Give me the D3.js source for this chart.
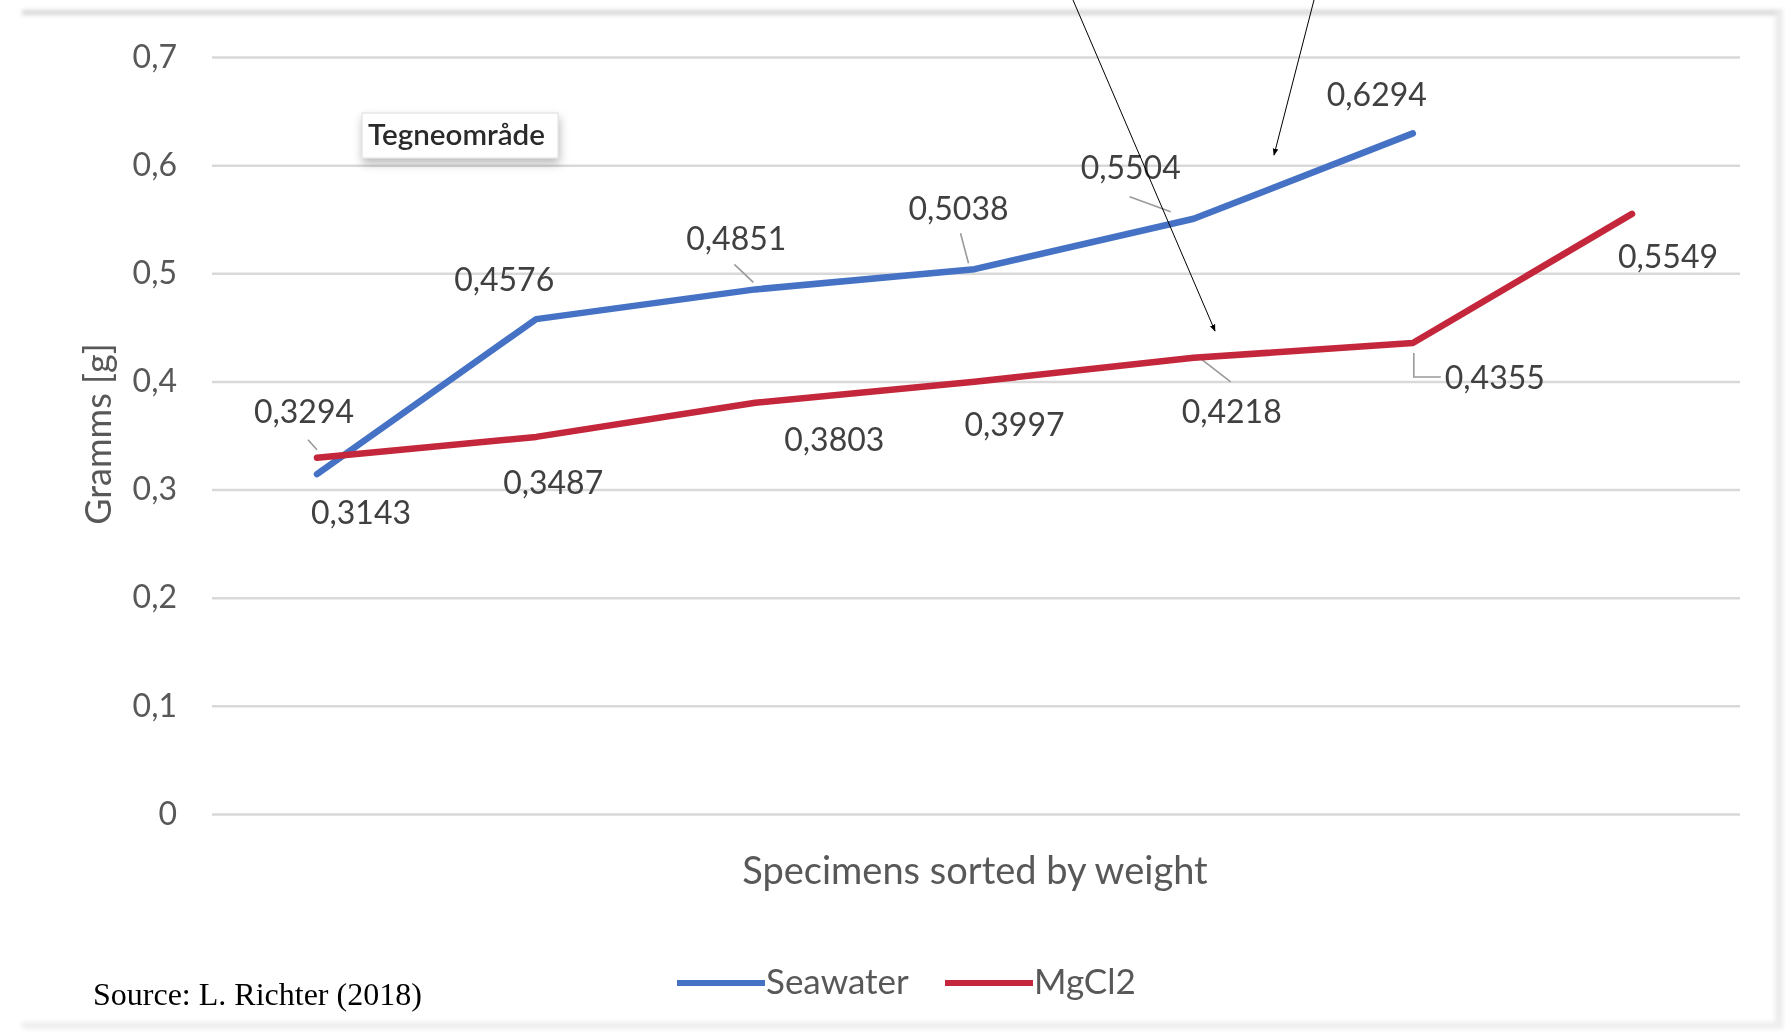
<!DOCTYPE html>
<html>
<head>
<meta charset="utf-8">
<title>Specimens sorted by weight</title>
<script src="https://cdn.jsdelivr.net/npm/d3@7/dist/d3.min.js"></script>
<style>
  html, body { margin: 0; padding: 0; background: #ffffff; }
  svg { display: block; }
</style>
</head>
<body>
<script>
// Specimen weights in grams, sorted ascending within each treatment
const specimens = [1, 2, 3, 4, 5, 6, 7];
const seawater = [0.3143, 0.4576, 0.4851, 0.5038, 0.5504, 0.6294];
const mgcl2 = [0.3294, 0.3487, 0.3803, 0.3997, 0.4218, 0.4355, 0.5549];
const yTicks = [0, 0.1, 0.2, 0.3, 0.4, 0.5, 0.6, 0.7];
const seriesNames = ["Seawater", "MgCl2"];

// Label placement (offset of each value label from its point, px)
const seawaterLabelOffsets = [[44, 38], [-32, -40], [-19, -51], [-16, -61], [-63, -51], [-36, -39]];
const mgcl2LabelOffsets = [[-13, -46], [17, 46], [79, 37], [40, 43], [38, 54], [82, 34], [36, 43]];
// Leader lines, as polylines relative to the point they belong to
const seawaterLeaders = [null, null, [[-21, -25], [-2, -7]], [[-14, -36], [-6, -6]], [[-64, -22], [-23, -7]], null];
const mgcl2Leaders = [[[-9, -18], [0, -8]], null, null, null, [[6, 0], [37, 24]], [[1, 10], [1, 34], [28, 34]], null];

const W = 1791, H = 1036;
const plotLeft = 212, plotRight = 1740, plotTop = 57, plotBottom = 814;
const colors = { Seawater: "#4472c4", MgCl2: "#c4263a" };

const locale = d3.formatLocale({ decimal: ",", thousands: ".", grouping: [3], currency: ["", " kr"] });
const fmtTick = locale.format(".1~f");
const fmtValue = locale.format(".4f");

const svg = d3.select("body").append("svg")
  .attr("width", W).attr("height", H)
  .attr("viewBox", `0 0 ${W} ${H}`);

const defs = svg.append("defs");
defs.append("filter").attr("id", "soft")
  .attr("x", "-2%").attr("y", "-2%").attr("width", "104%").attr("height", "104%")
  .append("feGaussianBlur").attr("stdDeviation", 0.7);
defs.append("filter").attr("id", "edge")
  .append("feGaussianBlur").attr("stdDeviation", 2);
const shadow = defs.append("filter").attr("id", "boxShadow")
  .attr("x", "-20%").attr("y", "-40%").attr("width", "140%").attr("height", "200%");
shadow.append("feDropShadow").attr("dx", 1).attr("dy", 5).attr("stdDeviation", 5)
  .attr("flood-color", "#000").attr("flood-opacity", 0.28);
defs.append("marker").attr("id", "arrow")
  .attr("viewBox", "0 0 10 10").attr("refX", 9).attr("refY", 5)
  .attr("markerWidth", 7).attr("markerHeight", 7).attr("markerUnits", "userSpaceOnUse")
  .attr("orient", "auto")
  .append("path").attr("d", "M0,1 L10,5 L0,9 Z").attr("fill", "#000");

// Chart frame edges
const frame = svg.append("g").attr("filter", "url(#edge)");
frame.append("rect").attr("x", 22).attr("y", 10).attr("width", 1760).attr("height", 5).attr("fill", "#d6d6d6");
frame.append("rect").attr("x", 1775).attr("y", 12).attr("width", 8).attr("height", 1016).attr("fill", "#ececec");
frame.append("rect").attr("x", 22).attr("y", 1022).attr("width", 1760).attr("height", 7).attr("fill", "#eeeeee");

const chart = svg.append("g").attr("filter", "url(#soft)");

const x = d3.scalePoint().domain(specimens).range([317, 1632]);
const y = d3.scaleLinear().domain([0, 0.7]).range([plotBottom, plotTop]);

// Horizontal gridlines and value axis labels
const yAxis = d3.axisLeft(y).tickValues(yTicks).tickFormat(fmtTick)
  .tickSize(-(plotRight - plotLeft)).tickPadding(35);
const gy = chart.append("g").attr("transform", `translate(${plotLeft},0)`).call(yAxis);
gy.select(".domain").remove();
gy.selectAll(".tick line").attr("stroke", "#d9d9d9").attr("stroke-width", 2.5);
gy.selectAll(".tick text")
  .attr("font-family", "Lato, 'Open Sans', sans-serif")
  .attr("font-size", 32).attr("fill", "#595959");

// Axis titles
chart.append("text")
  .attr("transform", "translate(98,434) rotate(-90)")
  .attr("text-anchor", "middle").attr("dy", "0.35em")
  .attr("font-family", "Lato, 'Open Sans', sans-serif")
  .attr("font-size", 36).attr("fill", "#595959")
  .text("Gramms [g]");
chart.append("text")
  .attr("x", 975).attr("y", 884).attr("text-anchor", "middle")
  .attr("font-family", "Lato, 'Open Sans', sans-serif")
  .attr("font-size", 38).attr("fill", "#595959")
  .text("Specimens sorted by weight");

const line = d3.line()
  .x((d, i) => x(specimens[i]))
  .y(d => y(d));

const series = [
  { name: seriesNames[0], values: seawater, offsets: seawaterLabelOffsets, leaders: seawaterLeaders },
  { name: seriesNames[1], values: mgcl2, offsets: mgcl2LabelOffsets, leaders: mgcl2Leaders }
];

// Leader lines from value labels
series.forEach(s => {
  s.values.forEach((v, i) => {
    const l = s.leaders[i];
    if (!l) return;
    const px = x(specimens[i]), py = y(v);
    chart.append("polyline")
      .attr("points", l.map(p => `${px + p[0]},${py + p[1]}`).join(" "))
      .attr("fill", "none").attr("stroke", "#9a9a9a").attr("stroke-width", 1.6);
  });
});

// Series lines
series.forEach(s => {
  chart.append("path")
    .datum(s.values)
    .attr("d", line)
    .attr("fill", "none")
    .attr("stroke", colors[s.name])
    .attr("stroke-width", 6.5)
    .attr("stroke-linecap", "round")
    .attr("stroke-linejoin", "round");
});

// Value labels
series.forEach(s => {
  chart.append("g").selectAll("text")
    .data(s.values)
    .join("text")
    .attr("x", (v, i) => x(specimens[i]) + s.offsets[i][0])
    .attr("y", (v, i) => y(v) + s.offsets[i][1])
    .attr("dy", "0.36em")
    .attr("text-anchor", "middle")
    .attr("font-family", "Lato, 'Open Sans', sans-serif")
    .attr("font-size", 32).attr("fill", "#404040")
    .text(v => fmtValue(v));
});

// Legend
const legend = chart.append("g");
const legendItems = [
  { name: seriesNames[0], x0: 677, x1: 765 },
  { name: seriesNames[1], x0: 945, x1: 1033 }
];
legendItems.forEach(it => {
  legend.append("line")
    .attr("x1", it.x0).attr("x2", it.x1).attr("y1", 983).attr("y2", 983)
    .attr("stroke", colors[it.name]).attr("stroke-width", 6);
  legend.append("text")
    .attr("x", it.x1 + 1).attr("y", 994)
    .attr("font-family", "Lato, 'Open Sans', sans-serif")
    .attr("font-size", 35).attr("fill", "#595959")
    .text(it.name);
});

// Plot-area tooltip box
const tip = chart.append("g");
tip.append("rect")
  .attr("x", 362).attr("y", 113).attr("width", 196).attr("height", 45)
  .attr("fill", "#ffffff").attr("stroke", "#dcdcdc").attr("stroke-width", 1)
  .attr("filter", "url(#boxShadow)");
tip.append("text")
  .attr("x", 368).attr("y", 145)
  .attr("font-family", "Lato, 'Open Sans', sans-serif")
  .attr("font-size", 28).attr("font-weight", 600).attr("fill", "#2b2b2b")
  .attr("textLength", 177).attr("lengthAdjust", "spacingAndGlyphs")
  .text("Tegneområde");

// Pointer arrows drawn over the chart
const arrows = [
  { x1: 1073, y1: 0, x2: 1215, y2: 331 },
  { x1: 1314, y1: 0, x2: 1274, y2: 155 }
];
svg.append("g").selectAll("line").data(arrows).join("line")
  .attr("x1", d => d.x1).attr("y1", d => d.y1)
  .attr("x2", d => d.x2).attr("y2", d => d.y2)
  .attr("stroke", "#000").attr("stroke-width", 1)
  .attr("marker-end", "url(#arrow)");

// Source note
svg.append("text")
  .attr("x", 93).attr("y", 1005)
  .attr("font-family", "'Liberation Serif', 'Times New Roman', serif")
  .attr("font-size", 32).attr("fill", "#000")
  .text("Source: L. Richter (2018)");
</script>
</body>
</html>
